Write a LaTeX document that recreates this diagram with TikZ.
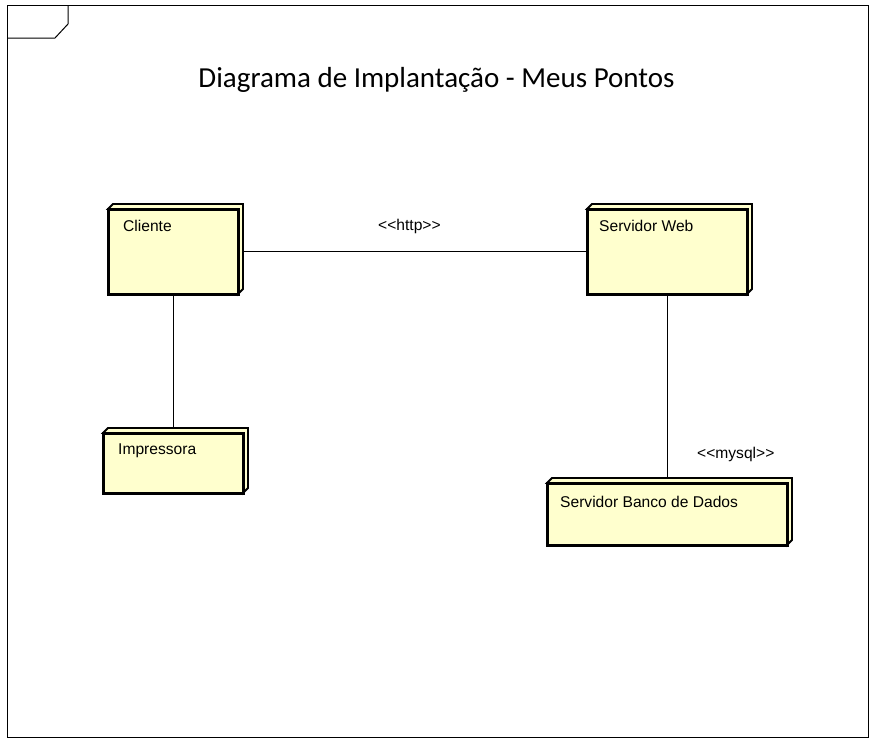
\documentclass[tikz,border=0pt]{standalone}
\usepackage{fontspec}
\setmainfont{Liberation Sans}
\newfontfamily\titlefont{Carlito}
\usetikzlibrary{calc}
\definecolor{nodefill}{RGB}{255,255,206}
\begin{document}
\begin{tikzpicture}[x=1pt,y=-1pt,
  nodebox/.style={fill=nodefill, draw=none, inner sep=0pt, outer sep=0pt, anchor=north west},
  front/.style={draw=black, line width=3pt, line join=miter},
  side/.style={draw=black, fill=nodefill, line width=1.8pt, line join=miter},
  conn/.style={draw=black, line width=1pt},
  lbl/.style={anchor=base west, inner sep=0pt, font=\fontsize{15.6}{18}\selectfont},
  frame/.style={draw=black, line width=1pt}]
\useasboundingbox (0,0) rectangle (878,744);
\fill[white] (0,0) rectangle (878,744);
% frame
\draw[frame] (7,5) rectangle (868,737);
\draw[frame] (68,5) -- (68,24) -- (55,38) -- (7,38);
% title
\node[anchor=base, inner sep=0pt, font=\titlefont\fontsize{29}{34}\selectfont] (title) at (436.5,87) {Diagrama de Implantação - Meus Pontos};
% nodes
\node[nodebox, minimum width=130pt, minimum height=85pt] (cli) at (108,209) {};
\node[nodebox, minimum width=160pt, minimum height=85pt] (srv) at (587,209) {};
\node[nodebox, minimum width=140pt, minimum height=60pt] (imp) at (103,433) {};
\node[nodebox, minimum width=240pt, minimum height=62pt] (bd) at (547,483) {};
% connectors
\draw[conn] (cli.east) -- (srv.west);
\draw[conn] (cli.south) -- (imp.north);
\draw[conn] (srv.south) -- (bd.north);
% 3D sides and front faces
\foreach \n in {cli,srv,imp,bd}{
  \filldraw[side] (\n.north west) -- ($(\n.north west)+(5,-5)$) -- ($(\n.north east)+(5,-5)$) -- ($(\n.south east)+(5,-5)$) -- (\n.south east) -- (\n.north east) -- cycle;
  \draw[front] (\n.north west) rectangle (\n.south east);
}
% labels
\node[lbl] (clit) at (123,231) {Cliente};
\node[lbl] (srvt) at (599,231) {Servidor Web};
\node[lbl] (impt) at (118,454) {Impressora};
\node[lbl] (bdt) at (560,507) {Servidor Banco de Dados};
\node[lbl] (http) at (378,230) {{<}{<}http{>}{>}};
\node[lbl] (mysql) at (697,458) {{<}{<}mysql{>}{>}};
\end{tikzpicture}
\end{document}
